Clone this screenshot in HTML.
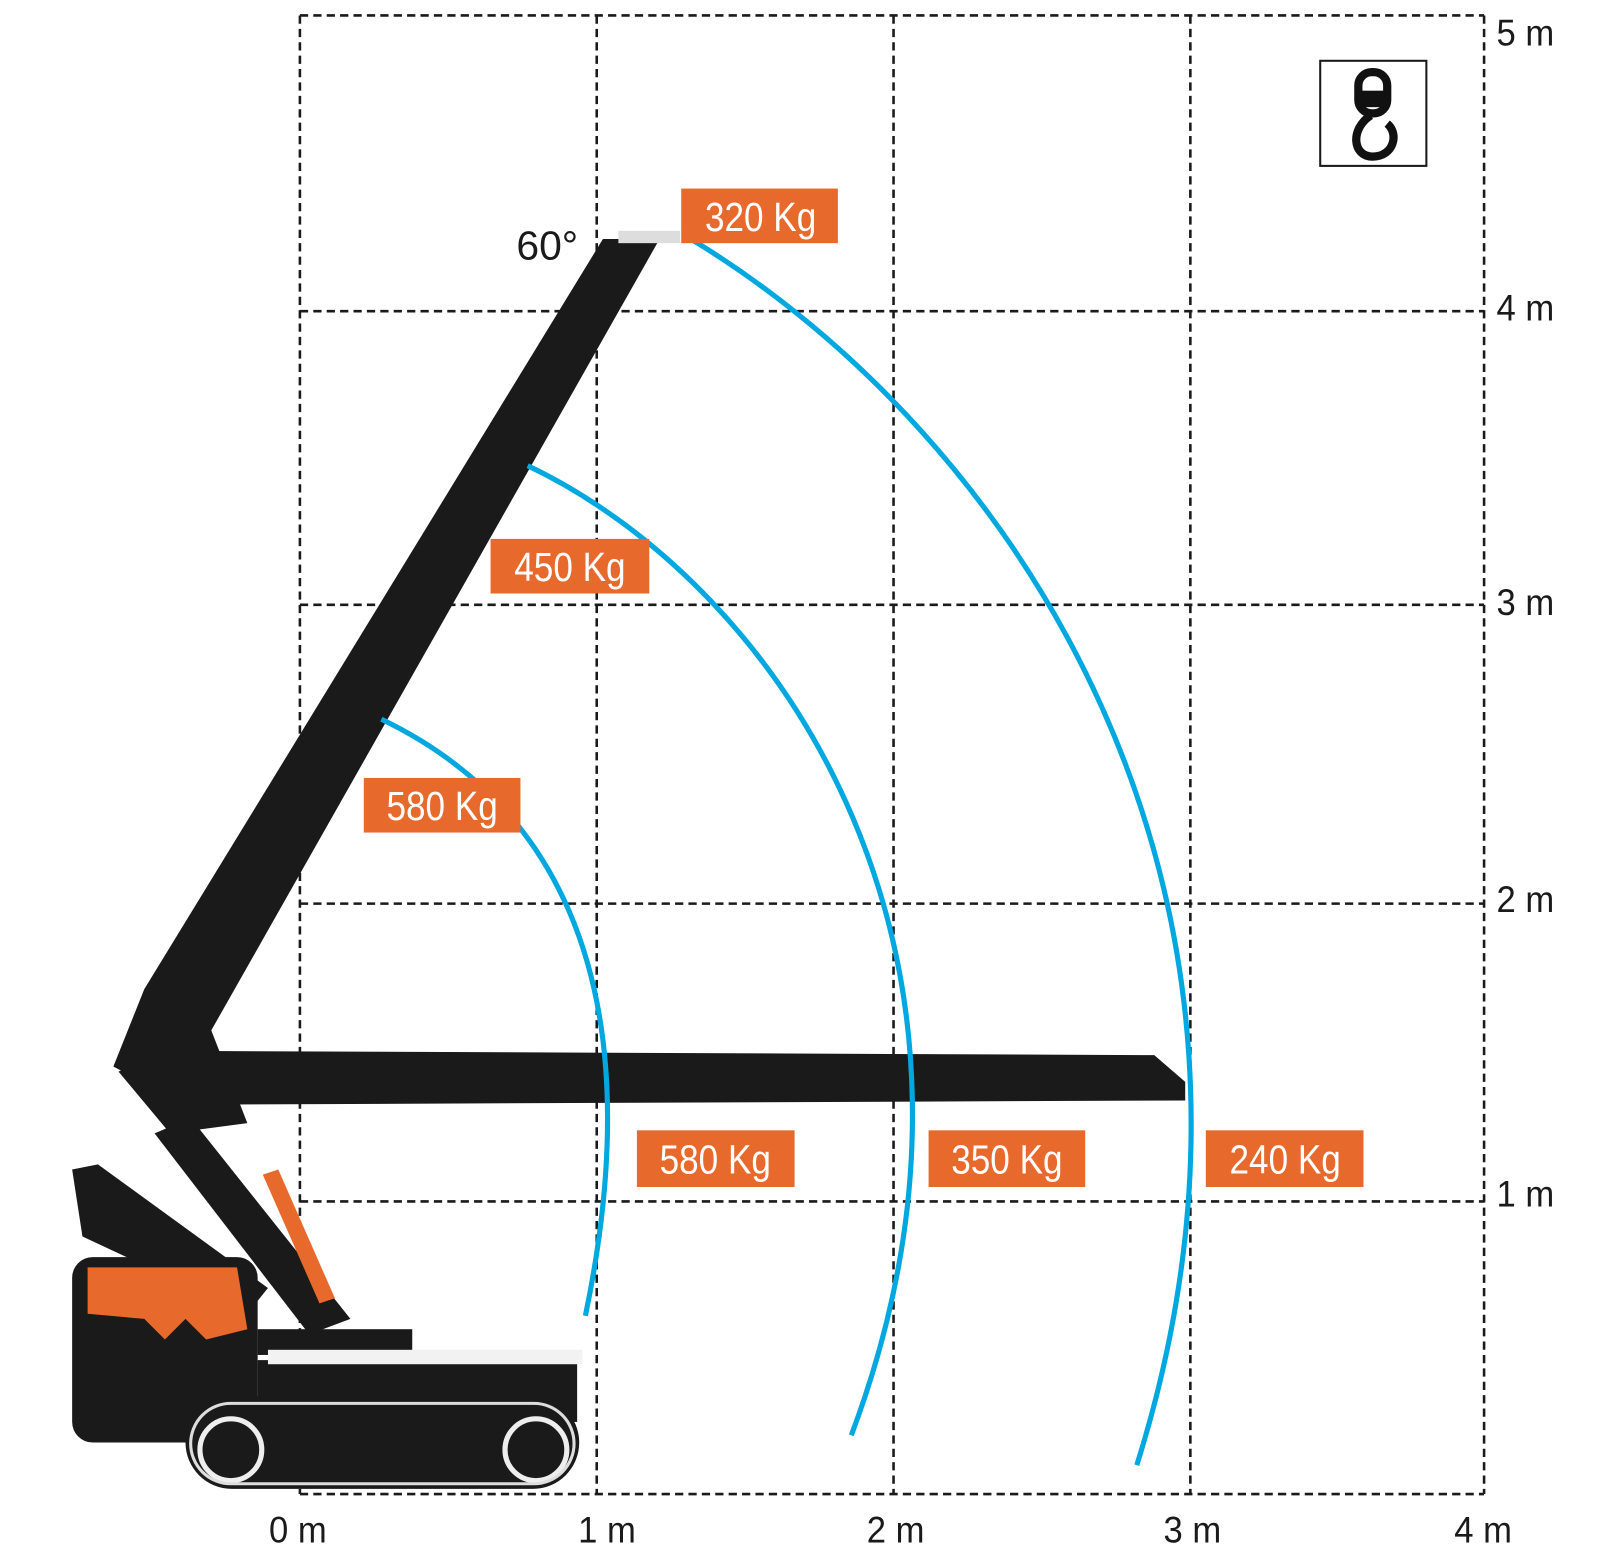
<!DOCTYPE html>
<html><head><meta charset="utf-8"><style>
html,body{margin:0;padding:0;background:#fff;}
svg{display:block}
text{font-family:"Liberation Sans Narrow","Liberation Sans",sans-serif;}
</style></head><body>
<svg width="1616" height="1560" viewBox="0 0 1568 1514" preserveAspectRatio="none" xmlns="http://www.w3.org/2000/svg">
<g stroke="#1a1a1a" stroke-width="2.5" stroke-dasharray="8,5" fill="none">
<line x1="291" y1="15" x2="1440" y2="15"/>
<line x1="291" y1="302" x2="1440" y2="302"/>
<line x1="291" y1="587" x2="1440" y2="587"/>
<line x1="291" y1="877" x2="1440" y2="877"/>
<line x1="291" y1="1166" x2="1440" y2="1166"/>
<line x1="291" y1="1450" x2="1440" y2="1450"/>
<line x1="291" y1="15" x2="291" y2="1450"/>
<line x1="579" y1="15" x2="579" y2="1450"/>
<line x1="867" y1="15" x2="867" y2="1450"/>
<line x1="1155" y1="15" x2="1155" y2="1450"/>
<line x1="1440" y1="15" x2="1440" y2="1450"/>
</g>
<g font-size="36" fill="#1a1a1a">
<text x="1452" y="44" textLength="56" lengthAdjust="spacingAndGlyphs">5 m</text>
<text x="1452" y="311" textLength="56" lengthAdjust="spacingAndGlyphs">4 m</text>
<text x="1452" y="597" textLength="56" lengthAdjust="spacingAndGlyphs">3 m</text>
<text x="1452" y="885" textLength="56" lengthAdjust="spacingAndGlyphs">2 m</text>
<text x="1452" y="1171" textLength="56" lengthAdjust="spacingAndGlyphs">1 m</text>
<text x="261" y="1497" textLength="56" lengthAdjust="spacingAndGlyphs">0 m</text>
<text x="561" y="1497" textLength="56" lengthAdjust="spacingAndGlyphs">1 m</text>
<text x="841" y="1497" textLength="56" lengthAdjust="spacingAndGlyphs">2 m</text>
<text x="1129" y="1497" textLength="56" lengthAdjust="spacingAndGlyphs">3 m</text>
<text x="1411" y="1497" textLength="56" lengthAdjust="spacingAndGlyphs">4 m</text>
<text x="501" y="252" font-size="40" textLength="60" lengthAdjust="spacingAndGlyphs">60°</text>
</g>
<!-- hook icon -->
<rect x="1281" y="59" width="103" height="102" fill="#fff" stroke="#1a1a1a" stroke-width="2"/>
<rect x="1318" y="70" width="28" height="40" rx="13" fill="none" stroke="#111" stroke-width="8"/>
<rect x="1318" y="88" width="28" height="16" fill="#111"/>
<path d="M1330,112 C1310,125 1312,152 1332,152 C1352,152 1358,130 1346,120" fill="none" stroke="#111" stroke-width="8"/>
<!-- machine -->
<g fill="#1a1a1a">
<polygon points="585,232 640,232 205,1000 175,1070 110,1035 140,960"/>
<rect x="600" y="224" width="60" height="12" fill="#ddd"/>
<polygon points="200,1020 1120,1024 1150,1050 1150,1068 200,1072"/>
<polygon points="115,1040 205,1000 240,1090 165,1100"/>
<polygon points="150,1100 185,1085 340,1280 300,1295"/>
<polygon points="70,1135 95,1130 260,1250 240,1275 80,1200"/>
<rect x="70" y="1220" width="180" height="180" rx="20"/>
<rect x="250" y="1290" width="150" height="25"/>
<rect x="250" y="1320" width="310" height="60"/>
<rect x="180" y="1355" width="382" height="90" rx="45"/>
</g>
<path d="M85,1230 L230,1230 L240,1290 L200,1300 L180,1280 L160,1300 L140,1280 L85,1275 Z" fill="#e8692c"/>
<polygon points="255,1140 270,1135 325,1260 310,1265" fill="#e8692c"/>
<rect x="260" y="1310" width="305" height="14" fill="#f2f2f2"/>
<circle cx="224" cy="1407" r="30" fill="none" stroke="#eee" stroke-width="5"/>
<circle cx="520" cy="1407" r="30" fill="none" stroke="#eee" stroke-width="5"/>
<rect x="185" y="1362" width="372" height="78" rx="39" fill="none" stroke="#ddd" stroke-width="3"/>
<!-- arcs -->
<g stroke="#00a8e0" stroke-width="5" fill="none">
<path d="M370,698 C520,770 640,930 568,1277"/>
<path d="M512,452 C760,570 1000,930 826,1393"/>
<path d="M672,233 C980,420 1280,860 1103,1422"/>
</g>
<!-- labels -->
<g fill="#e8692c">
<rect x="661" y="183" width="152" height="53"/>
<rect x="476" y="523" width="154" height="53"/>
<rect x="353" y="755" width="152" height="53"/>
<rect x="618" y="1097" width="153" height="55"/>
<rect x="901" y="1097" width="152" height="55"/>
<rect x="1170" y="1097" width="153" height="55"/>
</g>
<g fill="#fff" font-size="40">
<text x="684" y="224" textLength="108" lengthAdjust="spacingAndGlyphs">320 Kg</text>
<text x="499" y="564" textLength="108" lengthAdjust="spacingAndGlyphs">450 Kg</text>
<text x="375" y="796" textLength="108" lengthAdjust="spacingAndGlyphs">580 Kg</text>
<text x="640" y="1139" textLength="108" lengthAdjust="spacingAndGlyphs">580 Kg</text>
<text x="923" y="1139" textLength="108" lengthAdjust="spacingAndGlyphs">350 Kg</text>
<text x="1193" y="1139" textLength="108" lengthAdjust="spacingAndGlyphs">240 Kg</text>
</g>
</svg>
</body></html>
